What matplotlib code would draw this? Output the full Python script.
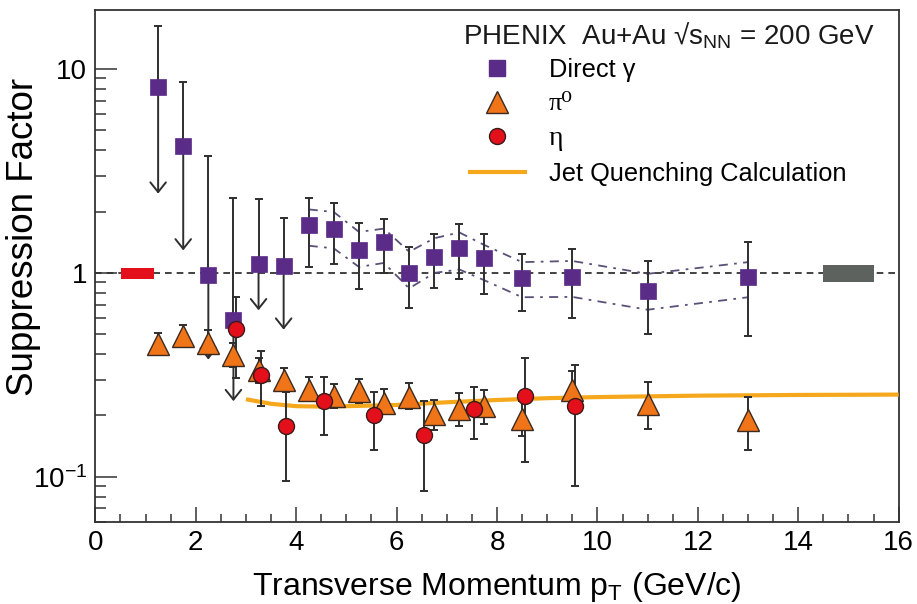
import matplotlib
matplotlib.use("Agg")
import matplotlib.pyplot as plt
import numpy as np
from matplotlib.lines import Line2D
from matplotlib.patches import Rectangle
from matplotlib.ticker import FixedLocator, FixedFormatter, MultipleLocator, NullFormatter

plt.rcParams['font.family'] = ['Liberation Sans', 'DejaVu Sans']
plt.rcParams['mathtext.fontset'] = 'custom'
plt.rcParams['mathtext.rm'] = 'Liberation Sans'
plt.rcParams['mathtext.it'] = 'Liberation Sans:italic'
plt.rcParams['mathtext.bf'] = 'Liberation Sans:bold'
plt.rcParams['mathtext.default'] = 'regular'

# ---------------- data ----------------
pt_gamma = [1.25, 1.75, 2.25, 2.75, 3.25, 3.75, 4.25, 4.75, 5.25, 5.75, 6.25,
            6.75, 7.25, 7.75, 8.5, 9.5, 11.0, 13.0]
r_gamma = [8.2, 4.2, 0.98, 0.59, 1.11, 1.08, 1.71, 1.65, 1.29, 1.42, 1.0,
           1.20, 1.33, 1.18, 0.945, 0.95, 0.82, 0.955]
gamma_hi = [16.3, 8.6, 3.74, 2.32, 2.31, 1.86, 2.33, 2.21, 1.75, 1.83, 1.34,
            1.56, 1.73, 1.55, 1.245, 1.31, 1.14, 1.42]
gamma_lo = [np.nan, np.nan, np.nan, np.nan, np.nan, np.nan, 1.07, 1.11, 0.83, 1.0, 0.67,
            0.84, 0.935, 0.79, 0.65, 0.60, 0.50, 0.49]
# upper-limit arrows (first six points)
pt_limit = [1.25, 1.75, 2.25, 2.75, 3.25, 3.75]
limit_from = [8.2, 4.2, 0.98, 0.59, 1.11, 1.08]
limit_to = [2.45, 1.29, 0.376, 0.235, 0.656, 0.527]

# systematic band for direct gamma
pt_band = [4.25, 4.75, 5.25, 5.75, 6.25, 6.75, 7.25, 7.75, 8.5, 9.5, 11.0, 13.0]
band_hi = [2.05, 1.99, 1.59, 1.65, 1.27, 1.48, 1.58, 1.37, 1.13, 1.145, 0.99, 1.13]
band_lo = [1.36, 1.32, 1.07, 1.12, 0.84, 1.0, 1.04, 0.92, 0.76, 0.763, 0.66, 0.76]

pt_pi0 = [1.25, 1.75, 2.25, 2.75, 3.25, 3.75, 4.25, 4.75, 5.25, 5.75, 6.25,
          6.75, 7.25, 7.75, 8.5, 9.5, 11.0, 13.0]
r_pi0 = [0.448, 0.489, 0.453, 0.394, 0.333, 0.30, 0.266, 0.248, 0.263, 0.23, 0.246,
         0.204, 0.216, 0.222, 0.193, 0.268, 0.228, 0.19]
pi0_hi = [0.51, 0.558, 0.523, 0.454, 0.384, 0.343, 0.307, 0.285, 0.303, 0.271, 0.288,
          0.237, 0.258, 0.268, 0.235, 0.329, 0.291, 0.246]
pi0_lo = [0.40, 0.437, 0.413, 0.345, 0.29, 0.268, 0.235, 0.218, 0.23, 0.204, 0.214,
          0.17, 0.177, 0.182, 0.158, 0.215, 0.172, 0.136]

pt_eta = [2.8, 3.3, 3.8, 4.55, 5.55, 6.55, 7.55, 8.55, 9.55]
r_eta = [0.531, 0.317, 0.177, 0.235, 0.20, 0.16, 0.215, 0.248, 0.222]
eta_hi = [0.762, 0.414, 0.262, 0.309, 0.262, 0.235, 0.276, 0.383, 0.355]
eta_lo = [0.305, 0.222, 0.095, 0.16, 0.136, 0.085, 0.153, 0.118, 0.09]

pt_jq = [3.0, 3.5, 4.0, 4.5, 5.0, 6.0, 7.0, 8.0, 9.0, 10.0, 11.0, 12.0, 14.0, 16.0]
r_jq = [0.24, 0.228, 0.222, 0.221, 0.222, 0.225, 0.232, 0.238, 0.243, 0.246,
        0.248, 0.25, 0.252, 0.253]

# normalisation boxes: (x0, x1, y0, y1)
norm_red = (0.52, 1.16, 0.935, 1.063)
norm_gray = (14.5, 15.5, 0.90, 1.09)

x_ticks = [0, 2, 4, 6, 8, 10, 12, 14, 16]
x_ticklabels = ['0', '2', '4', '6', '8', '10', '12', '14', '16']
y_ticks = [0.1, 1, 10]
y_ticklabels = ['10$^{-1}$', '1', '10']

# ---------------- colours ----------------
c_gamma = '#5b2c87'
c_pi0 = '#f07418'
c_eta = '#e3101c'
c_jq = '#f5a81c'
c_err = '#2e2e2e'
c_band = '#5a5078'

fig = plt.figure(figsize=(9.17, 6.04), dpi=100)
ax = fig.add_axes([0.104, 0.1358, 0.876, 0.8476])
ax.set_yscale('log')
ax.set_xlim(0, 16)
ax.set_ylim(0.06, 19.5)

# reference line at 1
ax.axhline(1.0, color='#222222', lw=1.2, ls=(0, (4, 3)), zorder=1)

# normalisation boxes
for (x0, x1, y0, y1), col in [(norm_red, c_eta), (norm_gray, '#5e625f')]:
    ax.add_patch(Rectangle((x0, y0), x1 - x0, y1 - y0, facecolor=col,
                           edgecolor='none', zorder=2))

# systematic band
ax.plot(pt_band, band_hi, color=c_band, lw=1.3, ls=(0, (5, 3.5, 1.5, 3.5)), zorder=2)
ax.plot(pt_band, band_lo, color=c_band, lw=1.3, ls=(0, (5, 3.5, 1.5, 3.5)), zorder=2)

# jet quenching calculation
ax.plot(pt_jq, r_jq, color=c_jq, lw=3.0, zorder=3, solid_capstyle='butt')

# direct gamma error bars
rg = np.array(r_gamma)
up = np.array(gamma_hi) - rg
dn = np.where(np.isnan(gamma_lo), 0.0, rg - np.array(gamma_lo))
ax.errorbar(pt_gamma, r_gamma, yerr=[dn, up], fmt='none', ecolor=c_err,
            elinewidth=1.4, capsize=3, capthick=1.4, zorder=4)
for x, y0, y1 in zip(pt_limit, limit_from, limit_to):
    ax.annotate('', xy=(x, y1), xytext=(x, y0),
                arrowprops=dict(arrowstyle='->, head_length=0.35, head_width=0.28',
                                color=c_err, lw=1.4, mutation_scale=20,
                                shrinkA=0, shrinkB=0), zorder=4)

# pi0
rp = np.array(r_pi0)
ax.errorbar(pt_pi0, r_pi0, yerr=[rp - np.array(pi0_lo), np.array(pi0_hi) - rp],
            fmt='none', ecolor=c_err, elinewidth=1.4, capsize=3, capthick=1.4, zorder=5)
# eta
re = np.array(r_eta)
ax.errorbar(pt_eta, r_eta, yerr=[re - np.array(eta_lo), np.array(eta_hi) - re],
            fmt='none', ecolor=c_err, elinewidth=1.4, capsize=3, capthick=1.4, zorder=5)

ax.plot(pt_gamma, r_gamma, ls='none', marker='s', ms=11.5, mfc=c_gamma,
        mec=c_gamma, mew=0.5, zorder=6)
ax.plot(pt_pi0, r_pi0, ls='none', marker='^', ms=16, mfc=c_pi0,
        mec='#3a2a20', mew=1.0, zorder=7)
ax.plot(pt_eta, r_eta, ls='none', marker='o', ms=11.5, mfc=c_eta,
        mec='#3a1a1a', mew=1.0, zorder=8)

# axes styling
for s in ax.spines.values():
    s.set_linewidth(1.3)
    s.set_color('#333333')
ax.xaxis.set_major_locator(FixedLocator(x_ticks))
ax.xaxis.set_major_formatter(FixedFormatter(x_ticklabels))
ax.xaxis.set_minor_locator(MultipleLocator(0.5))
ax.yaxis.set_major_locator(FixedLocator(y_ticks))
ax.yaxis.set_major_formatter(FixedFormatter(y_ticklabels))
minor_y = [m * d for d in (0.01, 0.1, 1, 10) for m in range(2, 10)]
ax.yaxis.set_minor_locator(FixedLocator(minor_y))
ax.yaxis.set_minor_formatter(NullFormatter())
ax.tick_params(axis='both', which='both', direction='in', color='#333333', width=1.1)
ax.tick_params(axis='x', which='major', length=11, labelsize=20, pad=6)
ax.tick_params(axis='x', which='minor', length=6)
ax.tick_params(axis='y', which='major', length=16, labelsize=20, pad=6)
ax.tick_params(axis='y', which='minor', length=8)

ax.set_xlabel('Transverse Momentum p$_{T}$ (GeV/c)', fontsize=23, labelpad=10)
fig.text(24 / 917, 1 - 237 / 604, 'Suppression Factor', fontsize=26.5,
         rotation=90, ha='center', va='center')

# legend
fig.text(463 / 917, 1 - 36 / 604, 'PHENIX  Au+Au \u221as$_{NN}$ = 200 GeV',
         fontsize=20, va='center', ha='left', color='#1a1a1a')
handles = [
    Line2D([], [], ls='none', marker='s', ms=11.5, mfc=c_gamma, mec=c_gamma),
    Line2D([], [], ls='none', marker='^', ms=16, mfc=c_pi0, mec='#3a2a20', mew=1.0),
    Line2D([], [], ls='none', marker='o', ms=11.5, mfc=c_eta, mec='#3a1a1a', mew=1.0),
    Line2D([], [], color=c_jq, lw=3.0),
]
labels = ['Direct \u03b3', '\u03c0\u2070', '\u03b7', 'Jet Quenching Calculation']
leg = fig.legend(handles, labels, loc='upper left',
                 bbox_to_anchor=(470 / 917, 1 - 58 / 604), frameon=False,
                 fontsize=18.3, handlelength=2.15, handletextpad=0.95,
                 labelspacing=0.42, borderpad=0, borderaxespad=0)
texts = leg.get_texts()
texts[1].set_fontfamily(['Liberation Serif', 'DejaVu Serif'])
texts[2].set_fontfamily(['Liberation Serif', 'DejaVu Serif'])
texts[1].set_fontsize(19)
texts[2].set_fontsize(20)

fig.savefig('out.png', dpi=100)
